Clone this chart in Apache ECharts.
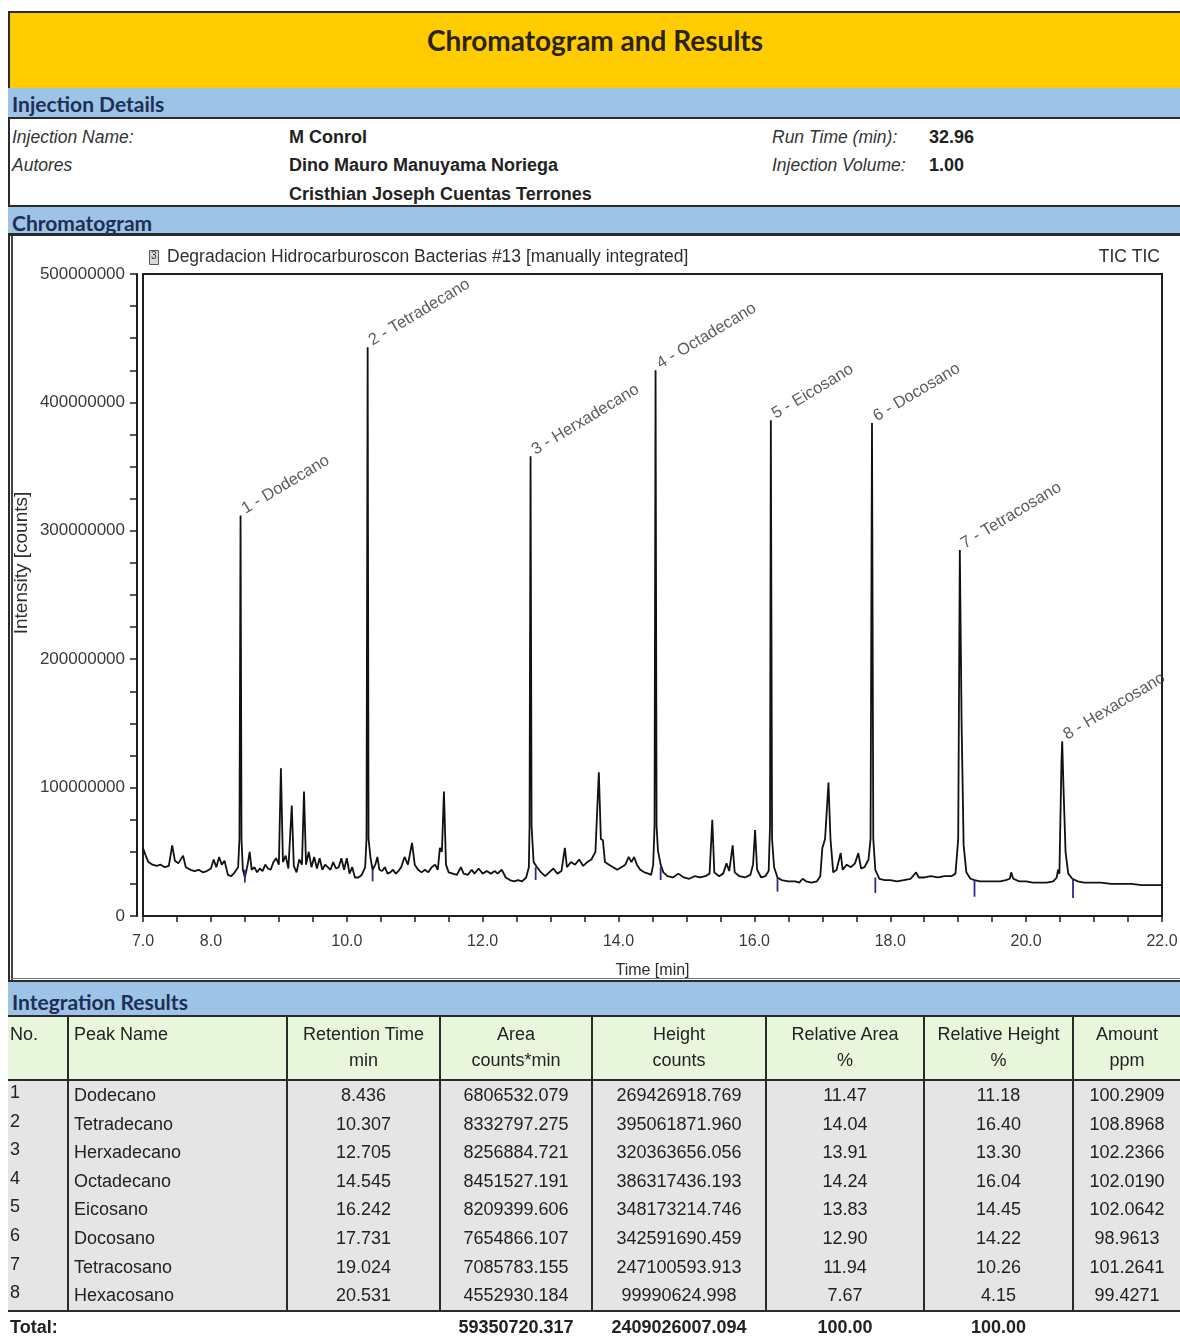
<!DOCTYPE html>
<html>
<head>
<meta charset="utf-8">
<script src="https://cdn.jsdelivr.net/npm/echarts@6/dist/echarts.min.js"></script>
<style>
  html, body { margin: 0; padding: 0; background: #fff; }
  body { width: 1180px; height: 1339px; position: relative; overflow: hidden; font-family: "Liberation Sans", Arial, sans-serif; color: #222; }
  .abs { position: absolute; }
  .rule { position: absolute; left: 8px; width: 1172px; height: 2px; background: #2b2b2b; }
  .band { position: absolute; left: 8px; width: 1172px; background: #9dc3e6; font-family: Lato, "Open Sans", sans-serif; font-weight: 700; font-size: 21px; color: #1c2f55; box-sizing: border-box; padding-left: 4px; }
  .lbl { position: absolute; font-style: italic; font-size: 17.5px; color: #333; line-height: 20px; }
  .val { position: absolute; font-weight: 700; font-size: 18px; color: #222; line-height: 20px; }
  #chart { position: absolute; left: 12px; top: 236px; width: 1168px; height: 744px; }
  table { position: absolute; left: 8px; top: 1017px; width: 1172px; border-collapse: collapse; table-layout: fixed; font-size: 18px; color: #222; }
  td { padding: 0; white-space: nowrap; overflow: hidden; border-left: 2px solid #2b2b2b; }
  tr.head td { background: #e8f6dc; height: 58px; vertical-align: top; line-height: 26px; border-bottom: 2px solid #2b2b2b; padding-top: 4px; text-align: center; }
  tr.data td { background: #e5e5e5; height: 28.6px; line-height: 28.6px; text-align: center; }
  tr.data.last td { border-bottom: 2px solid #2b2b2b; }
  tr.total td { background: #fff; height: 31px; font-weight: 700; text-align: center; border-left: none; line-height: 31px; }
  table tr td.l { text-align: left; padding-left: 5px; }
  table tr td.n { text-align: left; padding-left: 2px; border-left: none; }
</style>
</head>
<body>

<!-- page frame -->
<div class="abs" style="left:8px;top:11px;width:2px;height:1328px;background:#2b2b2b;"></div>
<div class="rule" style="top:11px;"></div>
<div class="abs" style="left:10px;top:13px;width:1170px;height:75px;background:#ffcc00;"></div>
<div class="abs" style="left:10px;top:21px;width:1170px;text-align:center;font-family:Lato,'Open Sans',sans-serif;font-weight:700;font-size:28px;color:#2c2210;line-height:38px;">Chromatogram and Results</div>

<div class="band" style="top:88px;height:29px;line-height:31px;">Injection Details</div>
<div class="rule" style="top:117px;"></div>

<div class="lbl" style="left:12px;top:127px;">Injection Name:</div>
<div class="lbl" style="left:12px;top:155px;">Autores</div>
<div class="val" style="left:289px;top:127px;">M Conrol</div>
<div class="val" style="left:289px;top:155px;">Dino Mauro Manuyama Noriega</div>
<div class="val" style="left:289px;top:184px;">Cristhian Joseph Cuentas Terrones</div>
<div class="lbl" style="left:772px;top:127px;">Run Time (min):</div>
<div class="lbl" style="left:772px;top:155px;">Injection Volume:</div>
<div class="val" style="left:929px;top:127px;">32.96</div>
<div class="val" style="left:929px;top:155px;">1.00</div>

<div class="rule" style="top:205px;"></div>
<div class="band" style="top:207px;height:27px;line-height:31px;">Chromatogram</div>
<div class="rule" style="top:233px;height:3px;"></div>

<div id="chart"></div>
<div class="abs" style="left:11px;top:236px;width:2px;height:744px;background:#444;"></div>
<div class="abs" style="left:11px;top:978px;width:1169px;height:1px;background:#777;"></div>

<div class="rule" style="top:980px;"></div>
<div class="band" style="top:982px;height:34px;line-height:40px;">Integration Results</div>
<div class="rule" style="top:1015px;"></div>

<table id="results">
  <colgroup>
    <col style="width:60px"><col style="width:219px"><col style="width:153px"><col style="width:152px">
    <col style="width:174px"><col style="width:158px"><col style="width:149px"><col style="width:107px">
  </colgroup>
  <tbody id="rows"></tbody>
</table>

<script>
// Peak table (Integration Results)
const peakNames = ['Dodecano', 'Tetradecano', 'Herxadecano', 'Octadecano', 'Eicosano', 'Docosano', 'Tetracosano', 'Hexacosano'];
const retentionTimes = [8.436, 10.307, 12.705, 14.545, 16.242, 17.731, 19.024, 20.531];
const peakAreas = [6806532.079, 8332797.275, 8256884.721, 8451527.191, 8209399.606, 7654866.107, 7085783.155, 4552930.184];
const peakHeights = [269426918.769, 395061871.960, 320363656.056, 386317436.193, 348173214.746, 342591690.459, 247100593.913, 99990624.998];
const relativeArea = [11.47, 14.04, 13.91, 14.24, 13.83, 12.90, 11.94, 7.67];
const relativeHeight = [11.18, 16.40, 13.30, 16.04, 14.45, 14.22, 10.26, 4.15];
const amountPpm = [100.2909, 108.8968, 102.2366, 102.0190, 102.0642, 98.9613, 101.2641, 99.4271];
const totalArea = 59350720.317;
const totalHeight = 2409026007.094;
const totalRelArea = 100.00;
const totalRelHeight = 100.00;

// Axis tick labels
const timeTickLabels = [7, 8, 10, 12, 14, 16, 18, 20, 22];

// TIC trace: [time (min), intensity (10^6 counts)]
const ticTrace = [
  [7.00, 53], [7.04, 47], [7.08, 42], [7.14, 40], [7.20, 39], [7.26, 40], [7.32, 38], [7.38, 39],
  [7.43, 55], [7.47, 43], [7.52, 41], [7.59, 47], [7.63, 38], [7.70, 36], [7.76, 35], [7.82, 36],
  [7.88, 34], [7.94, 35], [8.00, 37], [8.04, 44], [8.08, 38], [8.12, 46], [8.16, 40], [8.20, 43],
  [8.25, 32], [8.30, 31], [8.35, 34], [8.40, 38], [8.42, 60], [8.436, 312], [8.45, 60], [8.47, 36],
  [8.50, 30], [8.54, 40], [8.57, 50], [8.60, 36], [8.64, 38], [8.68, 34], [8.72, 37], [8.76, 35],
  [8.80, 40], [8.84, 37], [8.88, 36], [8.92, 42], [8.96, 45], [9.00, 40], [9.03, 115], [9.06, 42],
  [9.10, 47], [9.14, 37], [9.19, 86], [9.22, 39], [9.26, 34], [9.30, 44], [9.34, 40], [9.37, 97],
  [9.40, 40], [9.44, 50], [9.48, 38], [9.52, 46], [9.56, 37], [9.60, 45], [9.64, 36], [9.68, 40],
  [9.72, 38], [9.76, 36], [9.80, 42], [9.84, 37], [9.88, 38], [9.92, 45], [9.96, 36], [10.00, 45],
  [10.04, 33], [10.08, 38], [10.12, 30], [10.17, 30], [10.22, 32], [10.27, 38], [10.29, 60], [10.307, 443],
  [10.32, 60], [10.35, 45], [10.38, 36], [10.42, 40], [10.45, 46], [10.48, 36], [10.52, 35], [10.56, 38],
  [10.60, 33], [10.64, 34], [10.68, 36], [10.72, 33], [10.76, 35], [10.80, 38], [10.85, 46], [10.90, 40],
  [10.96, 57], [11.00, 40], [11.05, 36], [11.10, 34], [11.15, 36], [11.20, 34], [11.25, 38], [11.30, 40],
  [11.34, 36], [11.37, 53], [11.40, 50], [11.43, 97], [11.46, 40], [11.50, 34], [11.56, 33], [11.62, 32],
  [11.68, 38], [11.72, 33], [11.78, 32], [11.84, 36], [11.88, 33], [11.94, 37], [12.00, 33], [12.06, 35],
  [12.12, 33], [12.18, 35], [12.22, 33], [12.28, 36], [12.34, 30], [12.40, 28], [12.46, 27], [12.52, 28],
  [12.58, 27], [12.64, 30], [12.68, 38], [12.69, 70], [12.705, 358], [12.72, 70], [12.75, 42], [12.80, 38],
  [12.86, 34], [12.92, 31], [12.98, 34], [13.04, 37], [13.10, 33], [13.16, 35], [13.21, 53], [13.24, 38],
  [13.30, 42], [13.36, 40], [13.42, 44], [13.48, 39], [13.54, 42], [13.60, 44], [13.66, 50], [13.71, 112],
  [13.74, 60], [13.77, 59], [13.80, 42], [13.86, 40], [13.92, 38], [13.98, 36], [14.04, 38], [14.10, 40],
  [14.15, 46], [14.19, 42], [14.23, 46], [14.27, 40], [14.32, 36], [14.38, 34], [14.44, 33], [14.48, 32],
  [14.51, 40], [14.53, 70], [14.545, 425], [14.56, 70], [14.58, 51], [14.62, 40], [14.66, 34], [14.72, 31],
  [14.80, 30], [14.88, 33], [14.96, 30], [15.04, 29], [15.12, 31], [15.20, 30], [15.28, 31], [15.34, 33],
  [15.38, 75], [15.41, 34], [15.48, 31], [15.54, 33], [15.59, 41], [15.63, 35], [15.68, 55], [15.71, 34],
  [15.78, 31], [15.86, 30], [15.94, 32], [15.98, 40], [16.01, 67], [16.04, 36], [16.10, 30], [16.16, 31],
  [16.21, 35], [16.23, 70], [16.242, 386], [16.26, 60], [16.29, 38], [16.34, 30], [16.40, 28], [16.50, 27],
  [16.60, 27], [16.66, 26], [16.71, 29], [16.76, 27], [16.84, 26], [16.92, 27], [16.97, 31], [17.00, 53],
  [17.04, 60], [17.06, 77], [17.09, 104], [17.12, 60], [17.16, 34], [17.21, 36], [17.27, 49], [17.30, 36],
  [17.36, 40], [17.42, 38], [17.48, 41], [17.53, 49], [17.57, 37], [17.62, 38], [17.68, 44], [17.71, 60],
  [17.731, 384], [17.75, 60], [17.78, 36], [17.84, 29], [17.92, 28], [18.00, 28], [18.10, 27], [18.20, 28],
  [18.30, 29], [18.38, 34], [18.42, 30], [18.50, 30], [18.60, 31], [18.70, 30], [18.80, 31], [18.90, 31],
  [18.96, 33], [19.00, 60], [19.024, 285], [19.05, 150], [19.08, 55], [19.12, 34], [19.18, 29], [19.24, 28],
  [19.32, 27], [19.42, 27], [19.52, 27], [19.62, 27], [19.70, 28], [19.76, 29], [19.78, 34], [19.81, 29],
  [19.90, 27], [20.00, 27], [20.10, 26], [20.20, 26], [20.30, 26], [20.40, 27], [20.45, 30], [20.47, 36],
  [20.49, 33], [20.52, 120], [20.531, 136], [20.55, 100], [20.58, 50], [20.62, 33], [20.68, 29], [20.76, 27],
  [20.85, 26], [20.95, 26], [21.10, 26], [21.25, 25], [21.40, 25], [21.55, 25], [21.70, 24], [21.85, 24],
  [22.00, 24]
];

// Integration end markers: [time, upper, lower] in 10^6 counts
const integrationEnds = [
  [8.50, 36, 26], [10.38, 36, 27], [12.78, 38, 28], [14.62, 38, 28],
  [16.34, 30, 19], [17.78, 30, 18], [19.24, 28, 15], [20.69, 28, 14]
];

// ---------- results table ----------
const fmt = (v, d) => v.toFixed(d);
const rowsEl = document.getElementById('rows');
let html = '<tr class="head">' +
  '<td class="n">No.</td>' +
  '<td class="l">Peak Name</td>' +
  '<td>Retention Time<br>min</td>' +
  '<td>Area<br>counts*min</td>' +
  '<td>Height<br>counts</td>' +
  '<td>Relative Area<br>%</td>' +
  '<td>Relative Height<br>%</td>' +
  '<td>Amount<br>ppm</td></tr>';
peakNames.forEach((name, i) => {
  html += '<tr class="data' + (i === peakNames.length - 1 ? ' last' : '') + '">' +
    '<td class="n" style="vertical-align:top;line-height:22px">' + (i + 1) + '</td>' +
    '<td class="l">' + name + '</td>' +
    '<td>' + fmt(retentionTimes[i], 3) + '</td>' +
    '<td>' + fmt(peakAreas[i], 3) + '</td>' +
    '<td>' + fmt(peakHeights[i], 3) + '</td>' +
    '<td>' + fmt(relativeArea[i], 2) + '</td>' +
    '<td>' + fmt(relativeHeight[i], 2) + '</td>' +
    '<td>' + fmt(amountPpm[i], 4) + '</td></tr>';
});
html += '<tr class="total">' +
  '<td colspan="2" class="n">Total:</td><td></td>' +
  '<td>' + fmt(totalArea, 3) + '</td>' +
  '<td>' + fmt(totalHeight, 3) + '</td>' +
  '<td>' + fmt(totalRelArea, 2) + '</td>' +
  '<td>' + fmt(totalRelHeight, 2) + '</td><td></td></tr>';
rowsEl.innerHTML = html;

// ---------- chromatogram ----------
// apex of each named peak, taken from the trace point at its retention time
const peakApex = retentionTimes.map((rt, i) => {
  let best = ticTrace[0];
  ticTrace.forEach(p => { if (Math.abs(p[0] - rt) < Math.abs(best[0] - rt)) best = p; });
  return [best[0], best[1], peakNames[i], i + 1];
});

const chart = echarts.init(document.getElementById('chart'), null, { renderer: 'canvas' });
const axisFont = { fontFamily: 'Liberation Sans', fontSize: 17, color: '#3a3a3a' };

chart.setOption({
  animation: false,
  backgroundColor: '#fff',
  textStyle: { fontFamily: 'Liberation Sans' },
  grid: { left: 131, top: 38, right: 18, bottom: 64, outerBoundsMode: 'none', containLabel: false, show: true, borderColor: '#1e1e1e', borderWidth: 2, backgroundColor: 'transparent' },
  graphic: [
    { type: 'rect', left: 137, top: 14, shape: { width: 9, height: 14 }, style: { fill: '#d8d8d8', stroke: '#555', lineWidth: 1 } },
    { type: 'text', left: 139, top: 15, style: { text: '3', font: '10px "Liberation Sans"', fill: '#333' } },
    { type: 'text', left: 155, top: 12, style: { text: 'Degradacion Hidrocarburoscon Bacterias #13 [manually integrated]', font: '17.5px "Liberation Sans"', fill: '#2e2e2e' } },
    { type: 'text', right: 20, top: 12, style: { text: 'TIC TIC', font: '17.5px "Liberation Sans"', fill: '#2e2e2e' } },
    { type: 'text', x: 10, y: 327, rotation: Math.PI / 2, style: { text: 'Intensity [counts]', font: '19px "Liberation Sans"', fill: '#2e2e2e', align: 'center', verticalAlign: 'middle' } }
  ],
  xAxis: {
    type: 'value', min: 7, max: 22, interval: 0.5, offset: 7,
    name: 'Time [min]', nameLocation: 'middle', nameGap: 40,
    nameTextStyle: { fontFamily: 'Liberation Sans', fontSize: 16, color: '#2e2e2e' },
    axisLine: { show: true, lineStyle: { color: '#1e1e1e', width: 2 } },
    axisTick: { show: true, length: 6, lineStyle: { color: '#1e1e1e', width: 1.5 } },
    axisLabel: Object.assign({ margin: 11, showMinLabel: true, showMaxLabel: true,
      formatter: v => timeTickLabels.some(t => Math.abs(t - v) < 1e-6) ? v.toFixed(1) : '' }, axisFont, { fontSize: 16 }),
    splitLine: { show: false }
  },
  yAxis: {
    type: 'value', min: 0, max: 500, interval: 100, offset: 6,
    axisLine: { show: true, lineStyle: { color: '#1e1e1e', width: 2 } },
    axisTick: { show: true, length: 7, lineStyle: { color: '#1e1e1e', width: 1.5 } },
    minorTick: { show: true, splitNumber: 4, length: 7, lineStyle: { color: '#1e1e1e', width: 1.5 } },
    axisLabel: Object.assign({ margin: 12, formatter: v => String(Math.round(v * 1e6)) }, axisFont),
    splitLine: { show: false }
  },
  series: [
    {
      type: 'line', data: ticTrace, showSymbol: false, symbol: 'none', sampling: 'none',
      lineStyle: { color: '#111', width: 1.8 }, z: 3
    },
    {
      type: 'custom', data: integrationEnds, z: 4,
      renderItem: (params, api) => {
        const a = api.coord([api.value(0), api.value(1)]);
        const b = api.coord([api.value(0), api.value(2)]);
        return { type: 'line', shape: { x1: a[0], y1: a[1], x2: b[0], y2: b[1] }, style: { stroke: '#2b2b8f', lineWidth: 1.8 } };
      }
    },
    {
      type: 'scatter', data: peakApex, symbolSize: 2, itemStyle: { color: 'rgba(0,0,0,0)' }, z: 5,
      label: {
        show: true, position: [8, 3], align: 'left', verticalAlign: 'bottom', rotate: 31,
        formatter: p => p.value[3] + ' - ' + p.value[2],
        fontFamily: 'Liberation Sans', fontSize: 16.5, color: '#333'
      },
      labelLayout: { hideOverlap: false }
    }
  ]
});
</script>
</body>
</html>
